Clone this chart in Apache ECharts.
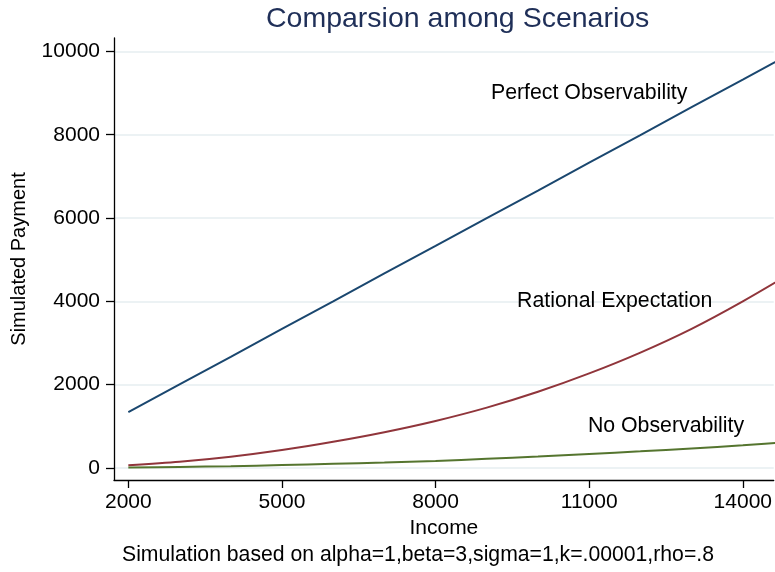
<!DOCTYPE html>
<html>
<head>
<meta charset="utf-8">
<script src="https://cdn.jsdelivr.net/npm/echarts@6/dist/echarts.min.js"></script>
<style>
html,body{margin:0;padding:0;background:#fff;}
#chart{width:775px;height:572px;}
</style>
</head>
<body>
<div id="chart"></div>
<script>
// ---- data ----
var income = [2000, 3000, 4000, 5000, 6000, 7000, 8000, 9000, 10000, 11000, 12000, 13000, 14000, 15000];
var perfectObs = [1340, 2010, 2670, 3340, 4000, 4670, 5330, 6000, 6660, 7330, 7990, 8660, 9320, 9990];
var rationalExp = [65, 150, 270, 430, 630, 860, 1130, 1450, 1830, 2270, 2770, 3340, 4000, 4720];
var noObs = [10, 25, 45, 70, 100, 130, 170, 220, 275, 335, 400, 470, 545, 635];
var xTicks = [2000, 5000, 8000, 11000, 14000];
var yTicks = [0, 2000, 4000, 6000, 8000, 10000];
var seriesNames = ['Perfect Observability', 'Rational Expectation', 'No Observability'];
// text annotations: [income, payment]
var labelPos = [[11000, 9000], [11500, 4000], [12500, 1000]];
var titleText = 'Comparsion among Scenarios';
var xTitle = 'Income';
var yTitle = 'Simulated Payment';
var noteText = 'Simulation based on alpha=1,beta=3,sigma=1,k=.00001,rho=.8';

var colors = ['#1a476f', '#90353b', '#55752f'];
var values = [perfectObs, rationalExp, noObs];
var FONT = '"Liberation Sans", Arial, Helvetica, sans-serif';

function pairs(v) { return income.map(function (x, i) { return [x, v[i]]; }); }

var series = values.map(function (v, i) {
  return {
    name: seriesNames[i],
    type: 'line',
    data: pairs(v),
    smooth: i > 0 ? 0.3 : false,
    symbol: 'none',
    clip: true,
    lineStyle: { color: colors[i], width: 2 },
    markPoint: {
      symbol: 'circle', symbolSize: 0,
      silent: true,
      label: {
        show: true, position: 'inside', formatter: seriesNames[i],
        color: '#000', fontSize: 21.3, fontFamily: FONT
      },
      data: [{ coord: labelPos[i] }]
    }
  };
});

var chart = echarts.init(document.getElementById('chart'), null, { renderer: 'canvas' });
chart.setOption({
  animation: false,
  backgroundColor: '#fff',
  textStyle: { fontFamily: FONT },
  title: [
    { text: titleText, left: 261, top: 0,
      textStyle: { fontSize: 28.5, fontWeight: 'normal', color: '#1f2f58', fontFamily: FONT } },
    { text: noteText, left: 117, top: 540,
      textStyle: { fontSize: 21.2, fontWeight: 'normal', color: '#000', fontFamily: FONT } }
  ],
  grid: { left: 114, right: 0, top: 38, bottom: 92, containLabel: false },
  xAxis: {
    type: 'value', min: 1720, max: 14604,
    name: xTitle, nameLocation: 'middle', nameGap: 33,
    nameTextStyle: { fontSize: 21, color: '#000', fontFamily: FONT },
    axisLine: { show: true, onZero: false, lineStyle: { color: '#000', width: 1.3 } },
    axisTick: { show: true, length: 8, customValues: xTicks, lineStyle: { color: '#000', width: 1.3 } },
    axisLabel: { show: true, customValues: xTicks, margin: 12, fontSize: 21, color: '#000', fontFamily: FONT,
      formatter: function (v) { return String(v); } },
    splitLine: { show: false }
  },
  yAxis: {
    type: 'value', min: -288, max: 10322,
    name: yTitle, nameLocation: 'middle', nameGap: 85, nameRotate: 90,
    nameTextStyle: { fontSize: 20, color: '#000', fontFamily: FONT },
    axisLine: { show: true, onZero: false, lineStyle: { color: '#000', width: 1.3 } },
    axisTick: { show: true, length: 8, customValues: yTicks, lineStyle: { color: '#000', width: 1.3 } },
    axisLabel: { show: true, customValues: yTicks, margin: 14, fontSize: 21, color: '#000', fontFamily: FONT,
      formatter: function (v) { return String(v); } },
    splitLine: { show: true, lineStyle: { color: '#e6eef1', width: 1.6 } }
  },
  series: series
});
</script>
</body>
</html>
